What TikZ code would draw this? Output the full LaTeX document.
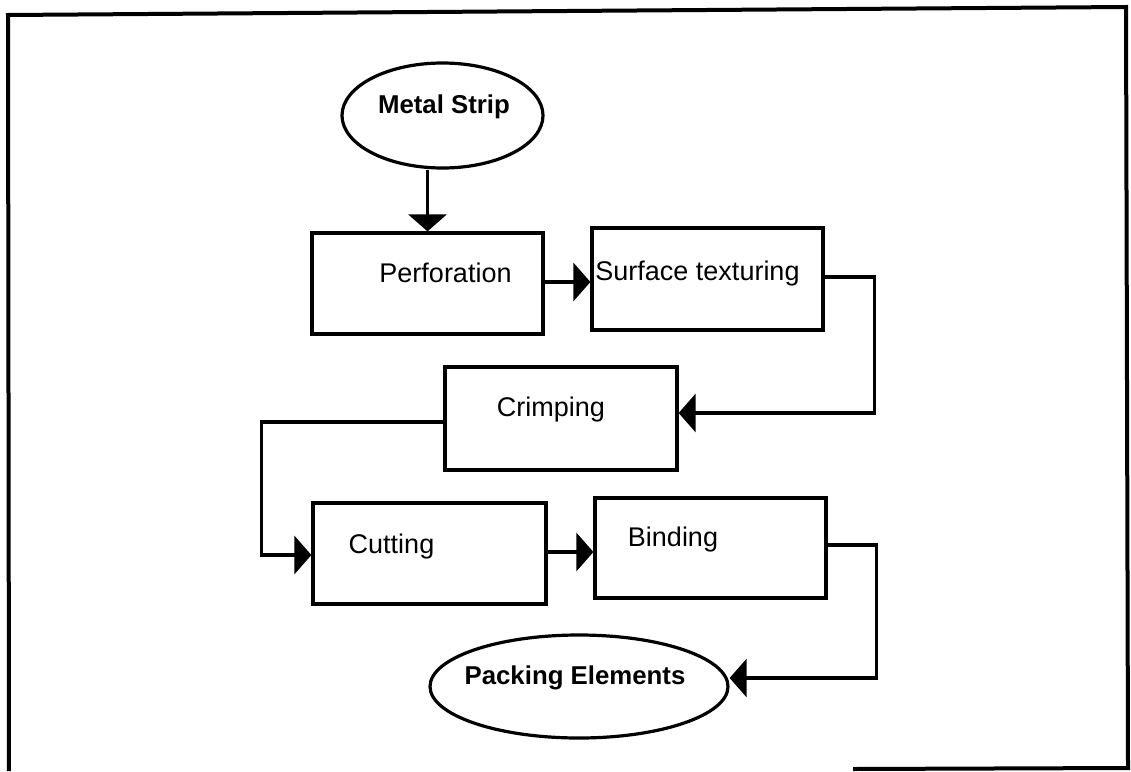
\documentclass[tikz,border=0pt]{standalone}
\usepackage{fontspec}
\setmainfont{Liberation Sans}
\usetikzlibrary{arrows.meta,shapes.geometric,calc}

\tikzset{
  stepbox/.style={draw, line width=3.2pt, inner sep=0pt, rectangle},
  endpoint/.style={draw, line width=3.2pt, inner sep=0pt, ellipse},
  boxtext/.style={font=\fontsize{27pt}{32pt}\selectfont, inner sep=0pt},
  endtext/.style={font=\fontsize{25.8pt}{31pt}\selectfont\bfseries, inner sep=0pt},
  flow/.style={line width=3.2pt, -{Triangle[length=17pt,width=38pt]}},
  frameline/.style={line width=4pt}
}

\begin{document}
\begin{tikzpicture}[x=1pt,y=-1pt]
\useasboundingbox (0,0) rectangle (1131,771);

% outer frame
\coordinate (fbl) at (9,771);
\coordinate (ftl) at (8,15);
\coordinate (ftr) at (1126,7);
\coordinate (fbr) at (1128,768);
\coordinate (fbm) at (853,769);
\draw[frameline] (fbl) -- (ftl) -- (ftr) -- (fbr) -- (fbm);

% start and end
\node[endpoint, minimum width=201pt, minimum height=105pt,
      label={[endtext, xshift=1.5pt, yshift=8.5pt]center:Metal Strip}]
      (ms) at (442.5,115.5) {};
\node[endpoint, minimum width=298pt, minimum height=103pt,
      label={[endtext, xshift=-4pt, yshift=8.5pt]center:Packing Elements}]
      (pack) at (579,686.5) {};

% process steps
\node[stepbox, minimum width=231pt, minimum height=101pt,
      label={[boxtext, xshift=18pt, yshift=10.5pt]center:Perforation}]
      (perf) at (427.5,283.5) {};
\node[stepbox, minimum width=231pt, minimum height=102pt,
      label={[boxtext, xshift=-10pt, yshift=5pt]center:Surface texturing}]
      (surf) at (707.5,279) {};
\node[stepbox, minimum width=232pt, minimum height=103pt,
      label={[boxtext, xshift=-10pt, yshift=8.5pt]center:Crimping}]
      (crimp) at (561,418.5) {};
\node[stepbox, minimum width=233pt, minimum height=101pt,
      label={[boxtext, xshift=-38pt, yshift=6.5pt]center:Cutting}]
      (cut) at (429.5,553.5) {};
\node[stepbox, minimum width=231pt, minimum height=100pt,
      label={[boxtext, xshift=-37.5pt, yshift=8pt]center:Binding}]
      (bind) at (710.5,548) {};

% connectors
\draw[flow] (perf.north |- ms.south) -- (perf.north);
\draw[flow] ([yshift=1.5pt]perf.east) -- ([yshift=1.5pt]surf.west |- perf.east);
\draw[flow] ([yshift=2pt]surf.east) -- ++(50,0) |- ([yshift=5.5pt]crimp.east);
\draw[flow] ([yshift=-3.5pt]crimp.west) -- ++(-182,0) |- ([yshift=-1.5pt]cut.west);
\draw[flow] ([yshift=1.5pt]cut.east) -- ([yshift=1.5pt]bind.west |- cut.east);
\draw[flow] ([yshift=3pt]bind.east) -- ++(49,0) |- ([yshift=8.5pt]pack.east);
\end{tikzpicture}
\end{document}
